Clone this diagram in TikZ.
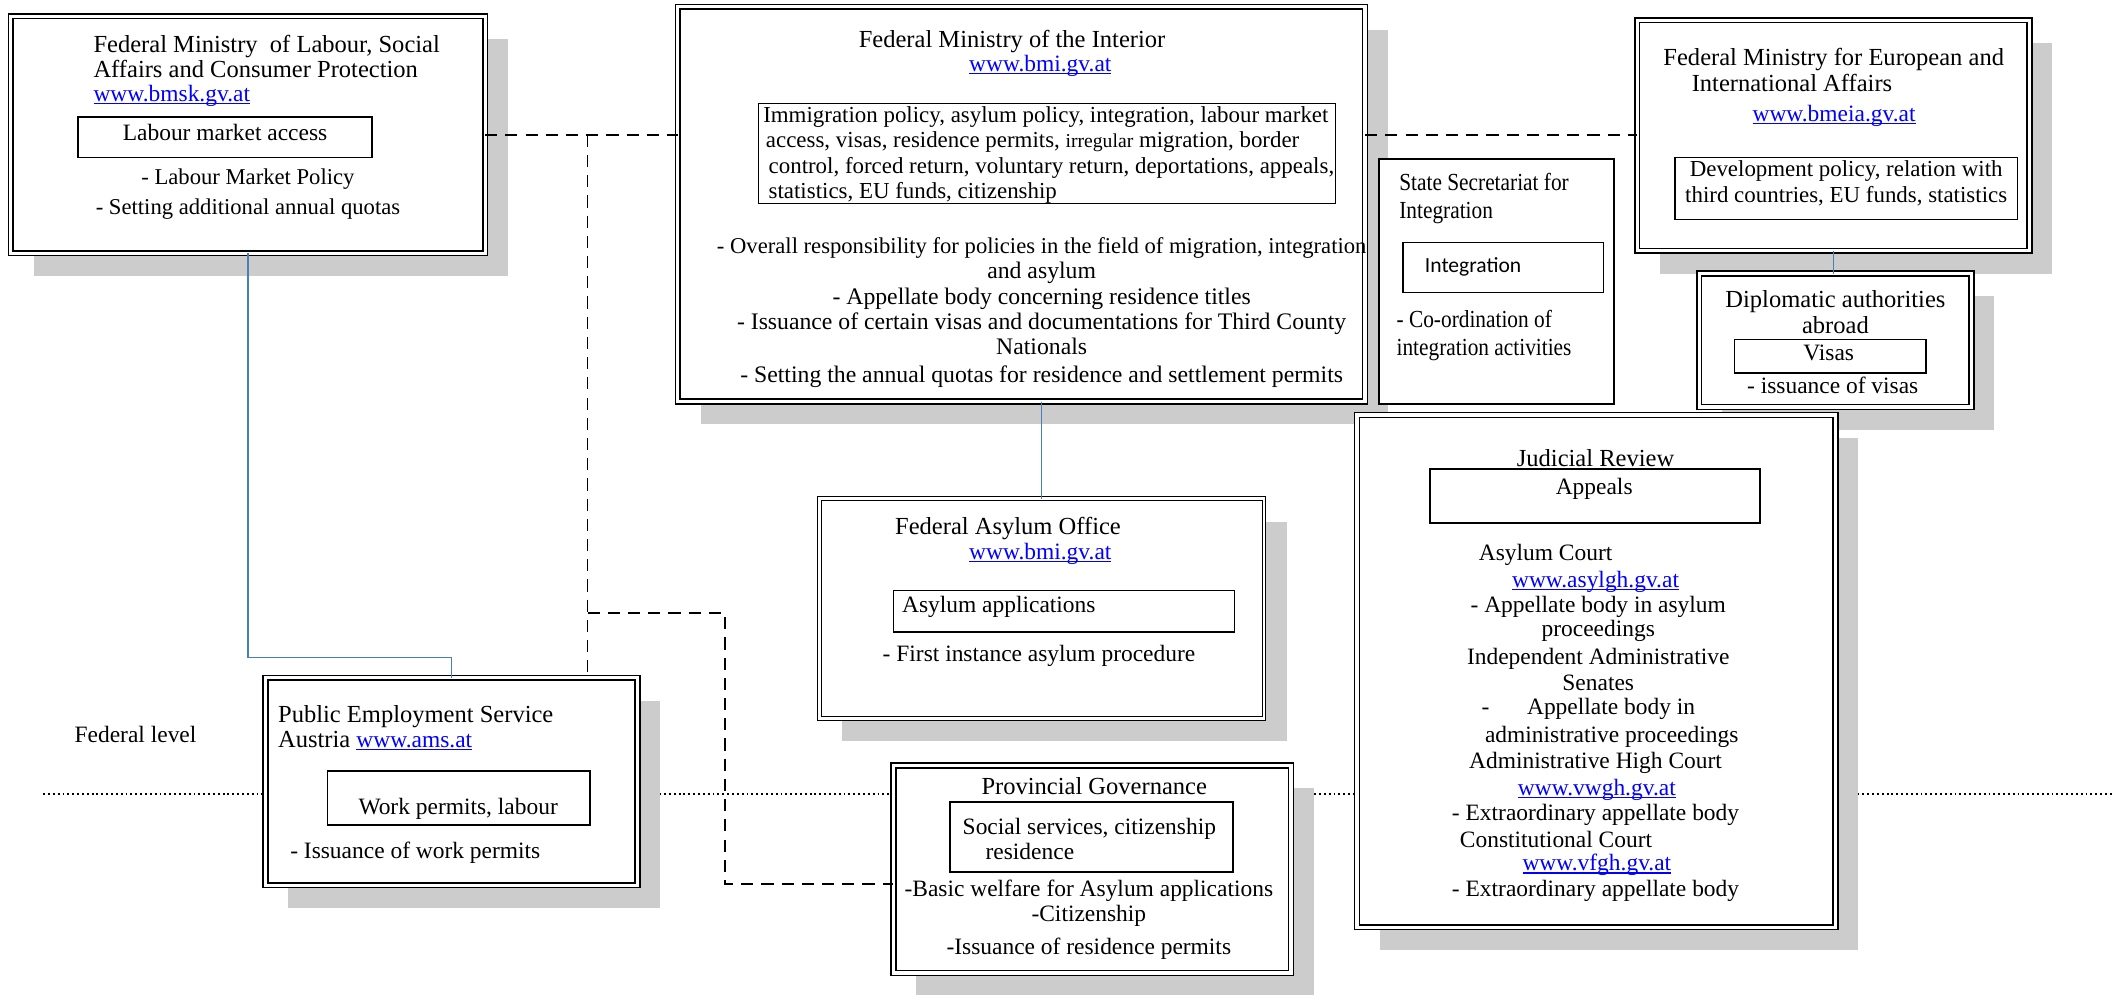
\documentclass[tikz,border=0pt]{standalone}
\usepackage{fontspec}
\setmainfont{Liberation Serif}
\newfontfamily\calibri{Carlito}
\newfontfamily\narrowserif[FakeStretch=0.87]{Liberation Serif}
\usepackage{tikz}
\usetikzlibrary{shadows}

\definecolor{linkblue}{HTML}{4A7EBB}
\definecolor{shadowgray}{HTML}{CCCCCC}
\definecolor{urlblue}{HTML}{0000FF}
\newsavebox{\sitebox}
\newcommand{\site}[1]{\textcolor{urlblue}{\sbox{\sitebox}{#1}\rlap{\rule[-1pt]{\wd\sitebox}{0.4pt}}\usebox{\sitebox}}}

\tikzset{
  office/.style={draw, double, double distance=1.2pt, line width=0.55pt, fill=white,
    inner sep=0pt, outer sep=0pt,
    drop shadow={shadow xshift=8.5pt, shadow yshift=-8.5pt, fill=shadowgray, opacity=1}},
  office thin/.style={office, line width=0.35pt, double distance=1pt},
  remit/.style={draw, line width=0.6pt, fill=white, inner sep=0pt, outer sep=0pt},
  txt/.style={inner sep=0pt, font=\fontsize{8.7}{9.4}\selectfont},
  title/.style={inner sep=0pt, font=\fontsize{9.1}{9.4}\selectfont},
  narrow/.style={inner sep=0pt, font=\fontsize{9.1}{10.4}\narrowserif},
  link/.style={linkblue, line width=0.6pt},
  tie/.style={dash pattern=on 4.5pt off 3pt, line width=0.7pt},
  level/.style={dash pattern=on 0.7pt off 1.1pt, line width=0.6pt}
}

\begin{document}
\begin{tikzpicture}[x=0.5pt, y=-0.5pt]
		\useasboundingbox (0,0) rectangle (1568,738);

		% draw federal level line
		\coordinate (lvlstart) at (32,589);
		\coordinate (lvlend) at (1568,589);
		\draw[level] (lvlstart) -- (lvlend);
		\node[txt, anchor=west] (fedlevel) at (55,545) {Federal level};

		% draw ministry of labour
		\node[office, minimum width=176pt, minimum height=88pt] (lab) at (184,100) {};
		\node[title, anchor=west, align=left] (labname) at (69,42) {Federal Ministry\ \ of Labour, Social\\Affairs and Consumer Protection};
		\node[txt, anchor=west] (labweb) at (69,71) {\site{www.bmsk.gv.at}};
		\node[remit, minimum width=109pt, minimum height=15pt] (labacc) at (167,102) {};
		\node[txt] (labacct) at (167,98) {Labour market access};
		\node[txt, align=center, font=\fontsize{8.4}{9.4}\selectfont] (labtask) at (184,144) {- Labour Market Policy\\[1.5pt]- Setting additional annual quotas};

		% draw ministry of the interior
		\node[office, minimum width=255pt, minimum height=146.5pt] (moi) at (758,151.5) {};
		\node[title] (moiname) at (751,31) {Federal Ministry of the Interior};
		\node[txt] (moiweb) at (772,49) {\site{www.bmi.gv.at}};
		\node[remit, line width=0.4pt, minimum width=214pt, minimum height=37pt] (moiacc) at (777,114) {};
		\node[txt, anchor=west, align=left, font=\fontsize{8.5}{9.4}\selectfont] (moiacct) at (566,115) {Immigration policy, asylum policy, integration, labour market\\
			\hspace{1pt}access, visas, residence permits, {\fontsize{7.3}{9.4}\selectfont irregular} migration, border\\
			\hspace{2pt}control, forced return, voluntary return, deportations, appeals,\\
			\hspace{2pt}statistics, EU funds, citizenship};
		\node[txt, align=center, font=\fontsize{8.8}{9.4}\selectfont] (moitask) at (773,232) {{\fontsize{8.4}{9.4}\selectfont - Overall responsibility for policies in the field of migration, integration}\\and asylum\\- Appellate body concerning residence titles\\- Issuance of certain visas and documentations for Third County\\Nationals\\[1pt]- Setting the annual quotas for residence and settlement permits};

		% draw state secretariat
		\node[draw, line width=0.7pt, fill=white, inner sep=0pt, minimum width=87.5pt, minimum height=91pt] (sec) at (1110.5,209) {};
		\node[narrow, anchor=west, align=left] (secname) at (1038,147.5) {State Secretariat for\\Integration};
		\node[remit, minimum width=74.5pt, minimum height=18.5pt] (secacc) at (1115.5,198.5) {};
		\node[txt, anchor=west, font=\fontsize{8}{9.4}\calibri] (secacct) at (1057,198) {Integration};
		\node[narrow, anchor=west, align=left] (sectask) at (1036,249) {- Co-ordination of\\integration activities};

		% draw ministry for european affairs
		\node[office, minimum width=145.5pt, minimum height=85.5pt] (eu) at (1360.5,100.5) {};
		\node[title, anchor=west, align=left] (euname) at (1234,52) {Federal Ministry for European and\\\hspace{10.5pt}International Affairs};
		\node[txt] (euweb) at (1361,86) {\site{www.bmeia.gv.at}};
		\node[remit, minimum width=127pt, minimum height=23pt] (euacc) at (1370,140) {};
		\node[txt, align=center, font=\fontsize{8.5}{9.4}\selectfont] (euacct) at (1370,136) {Development policy, relation with\\third countries, EU funds, statistics};

		% draw diplomatic authorities
		\node[office, minimum width=101pt, minimum height=49.5pt] (dipl) at (1362,252.5) {};
		\node[title, align=center] (diplname) at (1362,231.5) {Diplomatic authorities\\abroad};
		\node[remit, minimum width=71pt, minimum height=12.5pt] (diplacc) at (1358,264.5) {};
		\node[txt] (diplacct) at (1357,262) {Visas};
		\node[txt] (dipltask) at (1360,286) {- issuance of visas};

		% draw federal asylum office
		\node[office thin, minimum width=165pt, minimum height=81.5pt] (bfa) at (773,451.5) {};
		\node[title] (bfaname) at (748,392) {Federal Asylum Office};
		\node[txt] (bfaweb) at (772,411) {\site{www.bmi.gv.at}};
		\node[remit, line width=0.4pt, minimum width=126.5pt, minimum height=15.5pt] (bfaacc) at (789.5,453.5) {};
		\node[txt, anchor=west] (bfaacct) at (669,450) {Asylum applications};
		\node[txt] (bfatask) at (771,487) {- First instance asylum procedure};

		% draw provincial governance
		\node[office, minimum width=147.5pt, minimum height=77pt] (prov) at (810.5,645) {};
		\node[title] (provname) at (812,583) {Provincial Governance};
		\node[remit, minimum width=105pt, minimum height=26pt] (provacc) at (810,621) {};
		\node[txt, anchor=west, align=left] (provacct) at (714,622.5) {Social services, citizenship\\\hspace{8.5pt}residence};
		\node[txt, align=center] (provtask) at (808,682.5) {-Basic welfare for Asylum applications\\-Citizenship\\[3pt]-Issuance of residence permits};

		% draw judicial review
		\node[office, minimum width=177.5pt, minimum height=190pt] (court) at (1184.5,498) {};
		\node[title] (courtname) at (1184,340) {Judicial Review};
		\node[remit, minimum width=122.5pt, minimum height=20pt] (courtacc) at (1183.5,368) {};
		\node[txt] (courtacct) at (1183,363) {Appeals};
		\node[txt, anchor=west] (court412) at (1097,412) {Asylum Court};
		\node[txt, anchor=west] (court526) at (1099,526) {-\hspace{14pt}Appellate body in};
		\node[txt, anchor=west] (court623) at (1083,623) {Constitutional Court};
		\foreach \x/\y/\line in {1184/432/{\site{www.asylgh.gv.at}},
				1186/450/{- Appellate body in asylum},
				1186/468/{proceedings},
				1186/489/{Independent Administrative},
				1186/507/{Senates},
				1196/547/{administrative proceedings},
				1184/566/{Administrative High Court},
				1185/586/{\site{www.vwgh.gv.at}},
				1184/605/{- Extraordinary appellate body},
				1185/642/{\site{www.vfgh.gv.at}},
				1184/661/{- Extraordinary appellate body}}
			\node[txt] (court\y) at (\x,\y) {\line};

		% draw public employment service
		\node[office, minimum width=138pt, minimum height=77pt] (ams) at (335,580) {};
		\node[title, anchor=west, align=left] (amsname) at (206,540) {Public Employment Service\\Austria {\fontsize{8.7}{9.4}\selectfont\site{www.ams.at}}};
		\node[remit, minimum width=97.5pt, minimum height=20pt] (amsacc) at (340.5,592) {};
		\node[txt] (amsacct) at (340,600) {Work permits, labour};
		\node[txt, anchor=west] (amstask) at (215,633) {- Issuance of work permits};

		% draw dashed ties
		\coordinate (split) at (436,100);
		\coordinate (fork) at (436,455);
		\coordinate (bend) at (538,656);
		\draw[tie] (lab.east) -- (lab.east -| moi.west);
		\draw[tie] (eu.west -| moi.east) -- (eu.west);
		\draw[tie] (split) -- (split |- ams.north);
		\draw[tie] (fork) -| (bend) -- (bend -| prov.west);

		% draw blue links
		\draw[link] (lab.south) |- ([yshift=7.5pt]ams.north) -- (ams.north);
		\draw[link] (bfa.north |- moi.south) -- (bfa.north);
		\draw[link] (eu.south) -- (eu.south |- dipl.north);
	\end{tikzpicture}
\end{document}
